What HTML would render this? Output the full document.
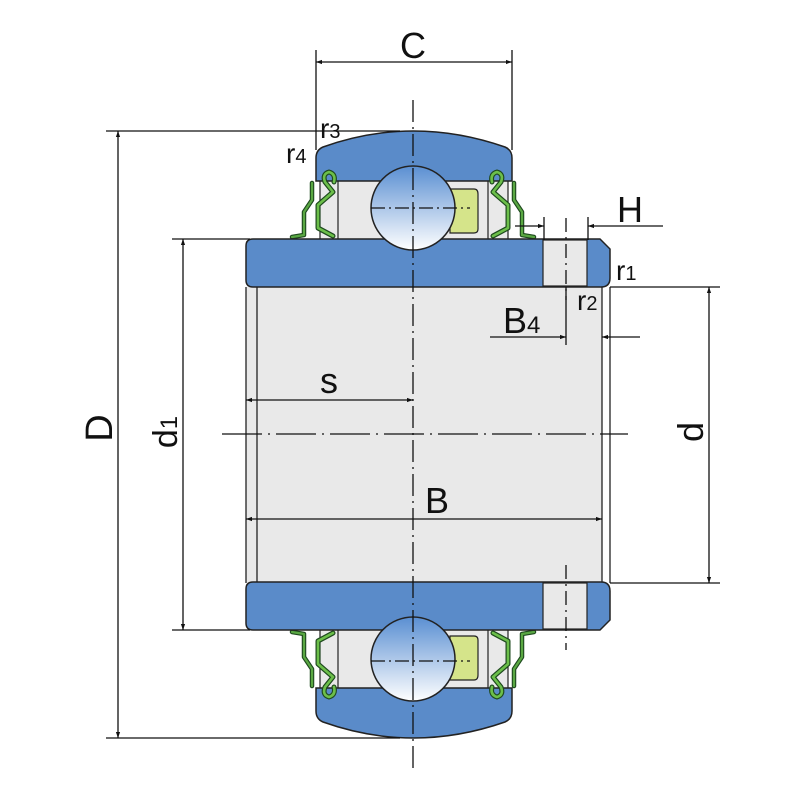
<!DOCTYPE html>
<html><head><meta charset="utf-8"><style>html,body{margin:0;padding:0;background:#fff}svg{display:block}text{font-family:"Liberation Sans",sans-serif;fill:#111}</style></head><body>
<svg width="800" height="800" viewBox="0 0 800 800" xmlns="http://www.w3.org/2000/svg">
<defs>
<linearGradient id="bg" x1="0" y1="0" x2="0" y2="1"><stop offset="0" stop-color="#5a8fd2"/><stop offset="1" stop-color="#ffffff"/></linearGradient>
<marker id="a" viewBox="0 0 10 10" refX="10" refY="5" markerWidth="10" markerHeight="6" orient="auto-start-reverse" markerUnits="userSpaceOnUse"><path d="M0,1.5 L10,5 L0,8.5z" fill="#111"/></marker>
<g id="half">
  <rect x="320" y="178" width="188" height="64" fill="#e9e9e9" stroke="#222" stroke-width="1.2"/>
  <line x1="338" y1="181" x2="338" y2="239" stroke="#222" stroke-width="1.2"/>
  <line x1="488" y1="181" x2="488" y2="239" stroke="#222" stroke-width="1.2"/>
  <path d="M323,147 Q413,115 505,147 Q512,150 512,158 L512,181 L316,181 L316,158 Q316,150 323,147Z" fill="#5a8bc9" stroke="#222" stroke-width="1.5"/>
  <path d="M450,189 L474,189 Q478,189 478,194 L478,229 Q478,233 474,233 L450,233Z" fill="#d5e48a" stroke="#222" stroke-width="1.2"/>
  <g fill="none" stroke-linejoin="round" stroke-linecap="round">
   <g id="seal">
    <path d="M334,182 Q336,174 329,172 Q322,174 325,182 L333,192 L318,205 L318,228 L333,236" stroke="#1e4a1e" stroke-width="5"/>
    <path d="M334,182 Q336,174 329,172 Q322,174 325,182 L333,192 L318,205 L318,228 L333,236" stroke="#6cbf4a" stroke-width="2.6"/>
    <path d="M312,183 L312,200 L304,212 L304,235 L292,237" stroke="#1e4a1e" stroke-width="4.5"/>
    <path d="M312,183 L312,200 L304,212 L304,235 L292,237" stroke="#5aa843" stroke-width="2.2"/>
   </g>
   <use href="#seal" transform="translate(826,0) scale(-1,1)"/>
  </g>
  <path d="M253,239 L600,239 L610,249 L610,278 Q610,287 601,287 L253,287 Q246,287 246,280 L246,246 Q246,239 253,239Z" fill="#5a8bc9" stroke="#222" stroke-width="1.5"/>
  <rect x="543" y="240" width="44" height="46" fill="#e9e9e9" stroke="#222" stroke-width="1.2"/>
</g>
</defs>
<rect x="246" y="287" width="356" height="296" fill="#e9e9e9"/>
<line x1="257" y1="287" x2="257" y2="583" stroke="#222" stroke-width="1.3"/>
<line x1="246" y1="287" x2="246" y2="583" stroke="#222" stroke-width="1.3"/>
<line x1="602" y1="287" x2="602" y2="583" stroke="#222" stroke-width="1.3"/>
<line x1="610" y1="287" x2="610" y2="583" stroke="#222" stroke-width="1.3"/>
<use href="#half"/>
<use href="#half" transform="translate(0,869) scale(1,-1)"/>
<circle cx="413" cy="208" r="42" fill="url(#bg)" stroke="#222" stroke-width="1.5"/>
<circle cx="413" cy="659" r="42" fill="url(#bg)" stroke="#222" stroke-width="1.5"/>
<g stroke="#111" stroke-width="1.3" fill="none">
 <line x1="371" y1="208" x2="470" y2="208" stroke-dasharray="14,4,2,4"/>
 <line x1="371" y1="661" x2="470" y2="661" stroke-dasharray="14,4,2,4"/>
 <line x1="413" y1="100" x2="413" y2="770" stroke-dasharray="22,5,2,5"/>
 <line x1="222" y1="434" x2="628" y2="434" stroke-dasharray="40,6,2,6"/>
 <line x1="566" y1="218" x2="566" y2="300" stroke-dasharray="14,5,2,5"/>
 <line x1="566" y1="565" x2="566" y2="650" stroke-dasharray="14,5,2,5"/>
 <line x1="316" y1="50" x2="316" y2="150"/><line x1="512" y1="50" x2="512" y2="150"/>
 <line x1="316" y1="62" x2="512" y2="62" marker-start="url(#a)" marker-end="url(#a)"/>
 <line x1="106" y1="131" x2="400" y2="131"/><line x1="106" y1="738" x2="400" y2="738"/>
 <line x1="118" y1="131" x2="118" y2="738" marker-start="url(#a)" marker-end="url(#a)"/>
 <line x1="172" y1="239" x2="250" y2="239"/><line x1="172" y1="630" x2="250" y2="630"/>
 <line x1="183" y1="239" x2="183" y2="630" marker-start="url(#a)" marker-end="url(#a)"/>
 <line x1="610" y1="287" x2="720" y2="287"/><line x1="610" y1="583" x2="720" y2="583"/>
 <line x1="709" y1="287" x2="709" y2="583" marker-start="url(#a)" marker-end="url(#a)"/>
 <line x1="246" y1="400" x2="413" y2="400" marker-start="url(#a)" marker-end="url(#a)"/>
 <line x1="246" y1="519" x2="602" y2="519" marker-start="url(#a)" marker-end="url(#a)"/>
 <line x1="544" y1="217" x2="544" y2="240"/><line x1="588" y1="217" x2="588" y2="240"/>
 <line x1="515" y1="226" x2="544" y2="226" marker-end="url(#a)"/>
 <line x1="663" y1="226" x2="588" y2="226" marker-end="url(#a)"/>
 <line x1="490" y1="337" x2="566" y2="337" marker-end="url(#a)"/>
 <line x1="640" y1="337" x2="602" y2="337" marker-end="url(#a)"/>
 <line x1="566" y1="287" x2="566" y2="345"/>
</g>
<text x="400" y="58" font-size="36">C</text>
<text x="320" y="138" font-size="28">r<tspan font-size="20">3</tspan></text>
<text x="286" y="163" font-size="28">r<tspan font-size="20">4</tspan></text>
<text x="617" y="222" font-size="36">H</text>
<text x="616" y="280" font-size="28">r<tspan font-size="20">1</tspan></text>
<text x="577" y="310" font-size="28">r<tspan font-size="20">2</tspan></text>
<text x="503" y="333" font-size="36">B<tspan font-size="24">4</tspan></text>
<text x="320" y="393" font-size="36">s</text>
<text x="425" y="513" font-size="36">B</text>
<text transform="translate(112,428) rotate(-90)" font-size="38" text-anchor="middle">D</text>
<text transform="translate(177,432) rotate(-90)" font-size="34" text-anchor="middle">d<tspan font-size="24">1</tspan></text>
<text transform="translate(703,432) rotate(-90)" font-size="36" text-anchor="middle">d</text>
</svg>
</body></html>
